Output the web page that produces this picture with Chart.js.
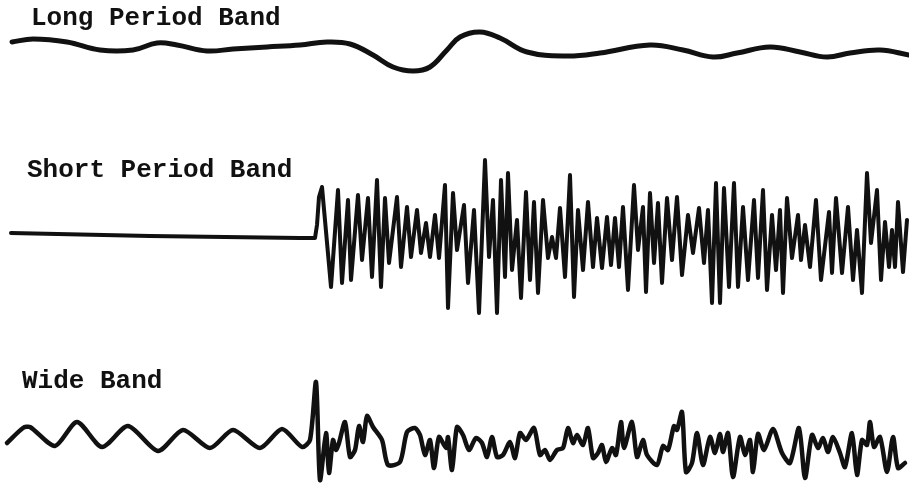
<!DOCTYPE html>
<html>
<head>
<meta charset="utf-8">
<script src="https://cdn.jsdelivr.net/npm/chart.js@4/dist/chart.umd.min.js"></script>
<style>
  html, body { margin: 0; padding: 0; background: #fff; }
  #wrap { position: relative; width: 909px; height: 485px; }
  #seis { position: absolute; left: 0; top: 0; }
  .band {
    position: absolute;
    font-family: "Liberation Mono", "DejaVu Sans Mono", monospace;
    font-weight: bold;
    font-size: 26px;
    line-height: 1;
    color: #111;
    white-space: nowrap;
  }
</style>
</head>
<body>
<div id="wrap">
  <canvas id="seis" width="909" height="485"></canvas>
  <div class="band" style="left:31px; top:5px;">Long Period Band</div>
  <div class="band" style="left:27px; top:157px;">Short Period Band</div>
  <div class="band" style="left:22px; top:368px;">Wide Band</div>
</div>
<script>
// 時間軸 (記録紙上の位置) と振幅 (上向きが正)
const lpTime = [12, 33, 67, 100, 133, 157, 177, 207, 233, 267, 300, 327, 350, 373, 393, 413, 430, 447, 460, 480, 500, 527, 567, 600, 650, 683, 713, 737, 770, 800, 827, 850, 880, 909];
const lpValue = [5, 8, 5, -3, -3, 4, 2, -4, -2, 0, 2, 5, 3, -8, -20, -24, -20, -3, 10, 15, 9, -5, -9, -6, 2, -3, -10, -6, 0, -5, -10, -6, -3, -8];

const spTime = [11, 150, 300, 315, 317, 319, 322, 331, 338, 342, 348, 351, 358, 362, 368, 372, 377, 381, 385, 389,
  397, 401, 407, 411, 417, 421, 426, 430, 435, 439, 445, 448, 453, 457, 464, 468, 474, 479, 485, 489,
  493, 497, 501, 505, 508, 512, 517, 521, 526, 530, 534, 538, 543, 548, 552, 556, 560, 565, 570, 574,
  578, 583, 588, 593, 597, 602, 607, 611, 615, 619, 623, 628, 634, 638, 643, 646, 650, 654, 658, 662,
  667, 672, 677, 682, 688, 693, 699, 704, 708, 712, 716, 720, 724, 729, 734, 738, 743, 748, 754, 758,
  763, 767, 772, 776, 780, 783, 787, 792, 798, 801, 805, 810, 816, 821, 829, 832, 836, 842, 848, 853,
  857, 862, 867, 871, 877, 881, 885, 889, 892, 895, 898, 903, 907];
const spValue = [4, 1, -1, -1, 12, 40, 50, -50, 47, -46, 37, -43, 42, -23, 39, -40, 57, -50, 39, -26,
  40, -30, 30, -20, 27, -16, 14, -20, 22, -21, 52, -71, 44, -13, 32, -46, 27, -76, 77, -20,
  37, -76, 57, -40, 64, -33, 17, -61, 45, -43, 35, -56, 37, -21, 0, -21, 29, -40, 62, -60,
  27, -33, 35, -30, 19, -31, 20, -28, 19, -30, 30, -53, 52, -13, 30, -55, 44, -26, 34, -46,
  39, -23, 40, -38, 22, -16, 29, -26, 27, -66, 54, -66, 49, -50, 54, -50, 30, -43, 37, -41,
  47, -53, 22, -33, 27, -56, 39, -21, 22, -23, 12, -30, 37, -43, 25, -36, 39, -36, 30, -43,
  7, -56, 64, -6, 47, -43, 15, -30, 7, -30, 35, -35, 17];

const wbTime = [7, 23, 30, 55, 77, 102, 128, 158, 183, 210, 233, 260, 282, 302, 310, 316, 320, 326, 329, 333,
  336, 339, 345, 350, 355, 359, 363, 367, 373, 382, 388, 400, 407, 415, 420, 425, 430, 434, 439, 446,
  448, 452, 457, 463, 469, 476, 482, 487, 492, 497, 503, 510, 515, 520, 526, 534, 540, 545, 550, 557,
  563, 568, 573, 577, 583, 588, 593, 598, 602, 606, 612, 616, 621, 624, 632, 637, 643, 647, 657, 663,
  668, 674, 677, 682, 686, 692, 697, 703, 710, 715, 720, 723, 728, 733, 740, 745, 750, 753, 758, 764,
  773, 782, 790, 799, 805, 812, 818, 823, 828, 833, 840, 845, 852, 857, 862, 867, 870, 874, 880, 887,
  893, 898, 905];
const wbValue = [-5, 10, 11, -8, 16, -9, 12, -13, 8, -10, 8, -10, 9, -9, -2, 56, -42, 5, -35, -2,
  -12, -5, 16, -19, -12, 12, -4, 22, 11, -2, -27, -24, 6, 10, 3, -17, -2, -30, 1, -10,
  1, -32, 11, 3, -12, 0, -5, -19, 1, -19, -17, -4, -20, 5, -2, 10, -17, -12, -22, -12,
  -10, 10, -5, 3, -7, 10, -20, -15, -7, -24, -10, -17, 16, -10, 16, -19, -2, -17, -27, -8,
  -12, 12, 8, 26, -34, -25, 5, -27, 1, -15, 4, -14, 5, -39, 1, -17, -2, -34, 4, -12,
  9, -15, -25, 10, -40, 3, -10, 0, -14, 1, -15, -29, 5, -37, -2, -7, 16, -9, 1, -34,
  1, -30, -25];

// 各トレースの基線 (縦軸上の位置)
const baseLines = { lp: 438, sp: 248, wb: 47 };

function toPoints(times, values, base) {
  return times.map((t, i) => ({ x: t, y: base + values[i] }));
}

new Chart(document.getElementById("seis"), {
  type: "line",
  data: {
    datasets: [
      {
        label: "Long Period Band",
        data: toPoints(lpTime, lpValue, baseLines.lp),
        borderColor: "#111",
        borderWidth: 5,
        tension: 0.4,
      },
      {
        label: "Short Period Band",
        data: toPoints(spTime, spValue, baseLines.sp),
        borderColor: "#111",
        borderWidth: 4,
        tension: 0,
      },
      {
        label: "Wide Band",
        data: toPoints(wbTime, wbValue, baseLines.wb),
        borderColor: "#111",
        borderWidth: 4.5,
        tension: 0.25,
      },
    ],
  },
  options: {
    responsive: false,
    devicePixelRatio: 1,
    animation: false,
    layout: { padding: 0 },
    elements: {
      point: { radius: 0 },
      line: { borderCapStyle: "round", borderJoinStyle: "round" },
    },
    scales: {
      x: { type: "linear", min: 0, max: 909, display: false },
      y: { type: "linear", min: 0, max: 485, display: false },
    },
    plugins: {
      legend: { display: false },
      tooltip: { enabled: false },
    },
  },
});
</script>
</body>
</html>
